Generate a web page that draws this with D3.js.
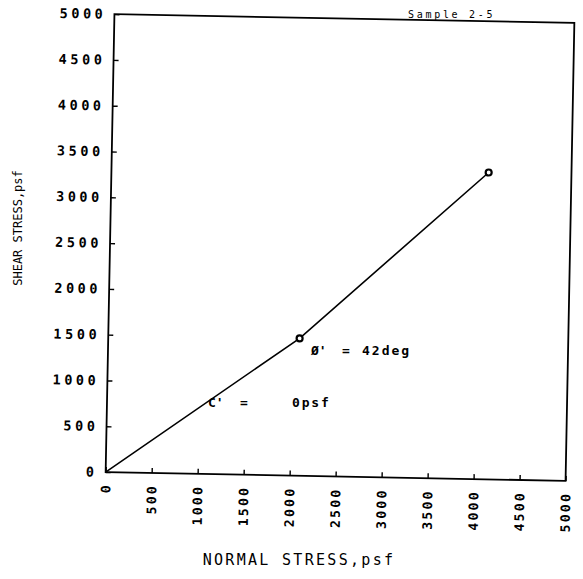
<!DOCTYPE html>
<html>
<head>
<meta charset="utf-8">
<script src="https://cdn.jsdelivr.net/npm/d3@7"></script>
<style>
  html, body { margin: 0; padding: 0; background: #fff; }
  svg { display: block; }
  text { font-family: "DejaVu Sans Mono", monospace; fill: #000; }
</style>
</head>
<body>
<svg id="chart" width="583" height="579"></svg>
<script>
// ---- data ----
const envelopeNormal = [0, 2080, 4100];      // psf
const envelopeShear  = [0, 1500, 3350];      // psf
const testNormal = [2080, 4100];
const testShear  = [1500, 3350];
const xTicks = [0, 500, 1000, 1500, 2000, 2500, 3000, 3500, 4000, 4500, 5000];
const yTicks = [0, 500, 1000, 1500, 2000, 2500, 3000, 3500, 4000, 4500, 5000];
const xTickLabels = ["0", "500", "1000", "1500", "2000", "2500", "3000", "3500", "4000", "4500", "5000"];
const yTickLabels = ["0", "500", "1000", "1500", "2000", "2500", "3000", "3500", "4000", "4500", "5000"];
const xTitle = "NORMAL STRESS,psf";
const yTitle = "SHEAR STRESS,psf";
const sampleLabel = "Sample 2-5";
const phiLabel = ["Ø'", "=", "42deg"];
const cLabel = ["C'", "=", "0psf"];

// ---- layout ----
const svg = d3.select("#chart");
svg.append("rect").attr("width", 583).attr("height", 579).attr("fill", "#fff");

const plotLeft = 110, plotRight = 570, plotTop = 18.5, plotBottom = 476.5;
const x = d3.scaleLinear().domain([0, 5000]).range([plotLeft, plotRight]);
const y = d3.scaleLinear().domain([0, 5000]).range([plotBottom, plotTop]);

// scanned plot is slightly tilted
const g = svg.append("g").attr("transform", "rotate(1.1, 340, 247.5)");

// frame
g.append("rect")
  .attr("x", plotLeft).attr("y", plotTop)
  .attr("width", plotRight - plotLeft).attr("height", plotBottom - plotTop)
  .attr("fill", "none").attr("stroke", "#000").attr("stroke-width", 1.8);

// y axis
const yAxis = g.append("g")
  .attr("transform", `translate(${plotLeft},0)`)
  .call(d3.axisLeft(y).tickValues(yTicks)
    .tickFormat((d, i) => yTickLabels[i])
    .tickSizeInner(-5).tickSizeOuter(0).tickPadding(8));
yAxis.select(".domain").remove();
yAxis.selectAll("line").attr("stroke", "#000").attr("stroke-width", 1.4);
yAxis.selectAll("text")
  .attr("font-family", "DejaVu Sans Mono").attr("font-size", 13.5)
  .attr("font-weight", "bold").attr("letter-spacing", 3.6).attr("fill", "#000");

// x axis
const xAxis = g.append("g")
  .attr("transform", `translate(0,${plotBottom})`)
  .call(d3.axisBottom(x).tickValues(xTicks)
    .tickFormat((d, i) => xTickLabels[i])
    .tickSizeInner(-5).tickSizeOuter(0));
xAxis.select(".domain").remove();
xAxis.selectAll("line").attr("stroke", "#000").attr("stroke-width", 1.4);
xAxis.selectAll("text")
  .attr("transform", "rotate(-90)")
  .attr("x", -11).attr("y", 0).attr("dy", "0.35em")
  .attr("text-anchor", "end")
  .attr("font-family", "DejaVu Sans Mono").attr("font-size", 13)
  .attr("font-weight", "bold").attr("letter-spacing", 2.3).attr("fill", "#000");

// failure envelope
const line = d3.line().x(d => x(d[0])).y(d => y(d[1]));
g.append("path")
  .datum(envelopeNormal.map((v, i) => [v, envelopeShear[i]]))
  .attr("d", line)
  .attr("fill", "none").attr("stroke", "#000").attr("stroke-width", 1.6);

// test points
g.selectAll("circle.pt")
  .data(testNormal.map((v, i) => [v, testShear[i]]))
  .enter().append("circle")
  .attr("class", "pt")
  .attr("cx", d => x(d[0])).attr("cy", d => y(d[1]))
  .attr("r", 3).attr("fill", "#fff").attr("stroke", "#000").attr("stroke-width", 2.2);

// titles
svg.append("text")
  .attr("x", 299).attr("y", 565)
  .attr("text-anchor", "middle")
  .attr("font-size", 15).attr("letter-spacing", 2.3)
  .text(xTitle);

svg.append("text")
  .attr("transform", "translate(22,228) rotate(-90)")
  .attr("text-anchor", "middle")
  .attr("font-size", 12)
  .text(yTitle);

svg.append("text")
  .attr("x", 408).attr("y", 18)
  .attr("font-size", 10).attr("letter-spacing", 2.7)
  .text(sampleLabel);

// annotations
const ann = svg.append("g").attr("font-size", 13).attr("font-weight", "bold");
const phiX = [311, 342, 362];
const cX = [208, 240, 292];
phiLabel.forEach((t, i) => ann.append("text").attr("x", phiX[i]).attr("y", 355)
  .attr("letter-spacing", i === 2 ? 2 : 0).text(t));
cLabel.forEach((t, i) => ann.append("text").attr("x", cX[i]).attr("y", 407)
  .attr("letter-spacing", i === 2 ? 1.8 : 0).text(t));
</script>
</body>
</html>
